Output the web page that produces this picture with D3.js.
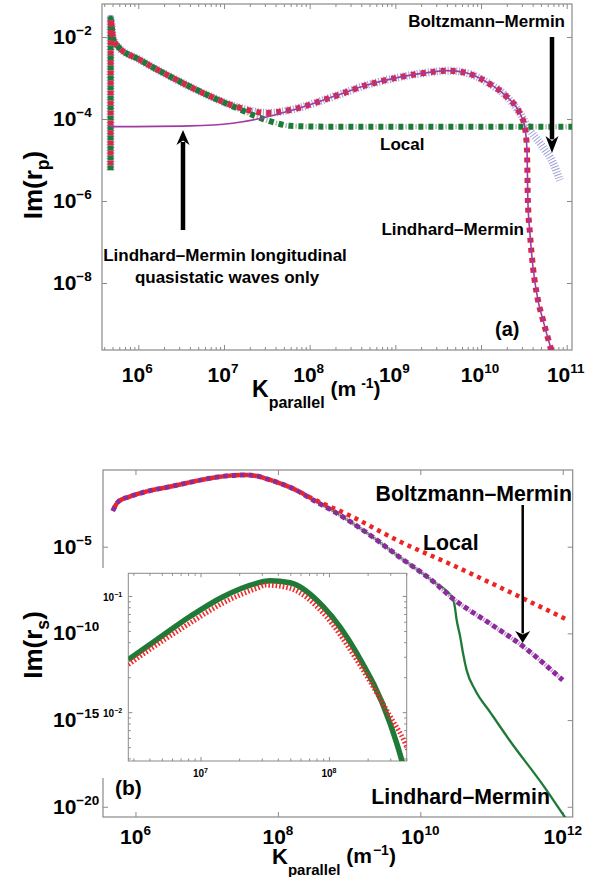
<!DOCTYPE html>
<html>
<head>
<meta charset="utf-8">
<script src="https://cdn.jsdelivr.net/npm/d3@7"></script>
<style>
  body { margin: 0; background: #fff; }
  svg { display: block; }
  text { font-family: "Liberation Sans", Arial, Helvetica, sans-serif; font-weight: bold; fill: #000; }
</style>
</head>
<body>
<svg id="fig" width="599" height="877"></svg>
<script>
// ---------------- Panel (a): Im(r_p) vs K_parallel ----------------
// decaying branch near the light line, shared by Local, Lindhard–Mermin and Boltzmann–Mermin
const kDecayA  = [4.74e5, 4.75e5, 4.76e5, 4.9e5, 5.07e5, 5.62e5, 1.05e6, 2.54e6, 6.31e6, 1.55e7];
const imDecayA = [5.6e-6, 3.2e-4, 2.8e-2, 1.78e-2, 9.5e-3, 6.3e-3, 2.75e-3, 1.0e-3, 3.9e-4, 1.86e-4];
// broad hump of the non-local models
const kHumpA  = [3.16e7, 5.9e7, 1.86e8, 4.68e8, 1.12e9, 2.75e9, 3.98e9, 6.84e9, 1.17e10, 2.0e10, 2.82e10];
const imHumpA = [1.41e-4, 1.66e-4, 3.47e-4, 6.76e-4, 1.05e-3, 1.41e-3, 1.51e-3, 1.32e-3, 7.9e-4, 3.47e-4, 1.41e-4];
// Lindhard–Mermin cut-off
const kLmTailA  = [3.24e10, 3.44e10, 3.52e10, 3.72e10, 4.04e10, 4.61e10, 5.28e10, 6.61e10, 7.48e10];
const imLmTailA = [6.4e-5, 1.75e-5, 1.06e-6, 1.66e-7, 2.45e-8, 3.89e-9, 1.26e-9, 2.34e-10, 1.0e-10];
// Boltzmann–Mermin tail
const kBmTailA  = [3.16e10, 3.72e10, 5.25e10, 6.92e10, 8.32e10];
const imBmTailA = [9.5e-5, 5.4e-5, 2.1e-5, 8.5e-6, 3.2e-6];
// Local model plateau
const kLocalA  = [1.55e7, 2.4e7, 4.12e7, 5.9e7, 1.58e8, 1.17e11];
const imLocalA = [1.7e-4, 1.15e-4, 7.9e-5, 6.8e-5, 6.5e-5, 6.5e-5];
// Lindhard–Mermin, longitudinal quasistatic waves only (low-K part)
const kQuasiA  = [4.7e5, 3.98e6, 1.26e7, 3.16e7, 5.9e7];
const imQuasiA = [6.5e-5, 6.8e-5, 7.9e-5, 1.12e-4, 1.58e-4];
const xTicksA = [1e6, 1e7, 1e8, 1e9, 1e10, 1e11];
const yTicksA = [1e-2, 1e-4, 1e-6, 1e-8];

// ---------------- Panel (b): Im(r_s) vs K_parallel ----------------
const kMainB  = [4.79e5, 5.75e5, 8.32e5, 1.58e6, 3.02e6, 5.89e6, 1.12e7, 2.14e7, 3.24e7, 5.01e7, 7.76e7, 1.2e8, 1.78e8];
const imMainB = [1.15e-3, 3.98e-3, 7.76e-3, 1.7e-2, 2.88e-2, 5.25e-2, 8.9e-2, 0.126, 0.138, 0.12, 7.1e-2, 3.8e-2, 1.9e-2];
// shared by Boltzmann–Mermin and Lindhard–Mermin
const kNonlocB  = [3.16e8, 6.03e8, 1.78e9, 5.13e9, 1.51e10, 2.88e10];
const imNonlocB = [4.8e-3, 1.12e-3, 6.3e-5, 2.5e-6, 1.0e-7, 1.0e-8];
const kBmTailB  = [8.51e10, 3.09e11, 6.03e11, 1.0e12];
const imBmTailB = [5.0e-10, 1.26e-11, 1.26e-12, 2.0e-13];
const kLmTailB  = [3.05e10, 3.24e10, 3.63e10, 3.98e10, 4.47e10, 5.89e10, 9.55e10, 1.78e11, 5.5e11, 1.07e12, 1.26e12];
const imLmTailB = [3.47e-9, 5.9e-10, 6.5e-11, 7.1e-12, 7.6e-13, 5.4e-14, 2.9e-15, 7.1e-17, 1.41e-19, 2.6e-21, 1.0e-21];
const kLocalB  = [3.16e8, 1.02e9, 5.13e9, 2.63e10, 1.32e11, 1.2e12];
const imLocalB = [5.6e-3, 6.3e-4, 2.0e-5, 1.0e-6, 4.5e-8, 5.6e-10];
const xTicksB = [1e6, 1e8, 1e10, 1e12];
const yTicksB = [1e-5, 1e-10, 1e-15, 1e-20];

// inset: zoom on the maximum
const kInsetLm   = [2.74e6, 4.56e6, 8.28e6, 1.5e7, 2.74e7, 3.47e7, 4.97e7, 9.02e7, 1.64e8, 2.98e8, 3.67e8, 3.98e8];
const imInsetLm  = [2.83e-2, 4.2e-2, 6.65e-2, 9.86e-2, 0.1285, 0.135, 0.13, 8.1e-2, 3.24e-2, 8.1e-3, 3.94e-3, 2.8e-3];
const kInsetLoc  = [2.74e6, 4.56e6, 8.28e6, 1.5e7, 2.74e7, 3.24e7, 4.97e7, 9.02e7, 1.64e8, 2.98e8, 3.89e8, 4.1e8];
const imInsetLoc = [2.57e-2, 3.8e-2, 5.83e-2, 8.7e-2, 0.1164, 0.124, 0.1164, 7.1e-2, 2.83e-2, 9.3e-3, 5.5e-3, 4.8e-3];
const xTicksIn = [1e7, 1e8];
const yTicksIn = [1e-1, 1e-2];

// ---------------- helpers ----------------
const svg = d3.select("#fig");
const AXIS = "#8a8a8a";
const zip = (k, v) => k.map((d, i) => [d, v[i]]);
const supExp = v => { const e = Math.round(Math.log10(v)); return (e < 0 ? "\u2212" : "") + Math.abs(e); };
function minorsBetween(lo, hi) {
  const out = [];
  for (let e = Math.floor(Math.log10(lo)); e <= Math.ceil(Math.log10(hi)); e++)
    for (let m = 2; m <= 9; m++) { const v = m * Math.pow(10, e); if (v > lo && v < hi) out.push(v); }
  return out;
}
function tickRow(g, axisFn, scale, values, size, transform) {
  const a = axisFn(scale).tickValues(values).tickSizeInner(-size).tickSizeOuter(0).tickFormat("");
  const t = g.append("g").attr("transform", transform).call(a);
  t.select(".domain").remove();
  t.selectAll("line").attr("stroke", AXIS).attr("stroke-width", 1);
}
function powLabel(g, x, y, v, fs, sfs, rise, anchor) {
  const t = g.append("text").attr("x", x).attr("y", y).attr("font-size", fs).attr("text-anchor", anchor || "start");
  t.append("tspan").text("10");
  t.append("tspan").attr("font-size", sfs).attr("dy", -rise).text(supExp(v));
  return t;
}
function arrow(g, x, y0, y1, w, hw, hl) {
  const dir = Math.sign(y1 - y0);
  g.append("line").attr("x1", x).attr("x2", x).attr("y1", y0).attr("y2", y1 - dir * hl * 0.8)
    .attr("stroke", "#000").attr("stroke-width", w);
  g.append("path").attr("d", `M${x - hw / 2},${y1 - dir * hl} L${x},${y1} L${x + hw / 2},${y1 - dir * hl} L${x},${y1 - dir * hl * 0.7} Z`)
    .attr("fill", "#000");
}
function kLabel(g, x, y, fsK, fsSub, fsUnit, fsSup, spaced) {
  const t = g.append("text").attr("x", x).attr("y", y);
  t.append("tspan").attr("font-size", fsK).text("K");
  t.append("tspan").attr("font-size", fsSub).attr("dy", fsSub * 0.7).text("parallel");
  t.append("tspan").attr("font-size", fsUnit).attr("dy", -fsSub * 0.7 - 1).text(" (m");
  t.append("tspan").attr("font-size", fsSup).attr("dy", -fsUnit * 0.4).attr("dx", spaced ? 5 : 1).text(spaced ? "-1" : "\u22121");
  t.append("tspan").attr("font-size", fsUnit).attr("dy", fsUnit * 0.4).text(")");
}
function imLabel(g, x, y, sub, fs) {
  const t = g.append("text").attr("transform", `translate(${x},${y}) rotate(-90)`)
    .attr("text-anchor", "middle").attr("font-size", fs);
  t.append("tspan").text("Im(r");
  t.append("tspan").attr("font-size", fs * 0.68).attr("dy", fs * 0.28).text(sub);
  t.append("tspan").attr("dy", -fs * 0.28).text(")");
}

// ================= Panel (a) =================
const A = { l: 102, t: 4, r: 572, b: 350 };
const xA = d3.scaleLog().domain([3.77e5, 1.153e11]).range([A.l, A.r]);
const yA = d3.scaleLog().domain([2.32e-10, 6.38e-2]).range([A.b, A.t]);
const gA = svg.append("g");
svg.append("defs").append("clipPath").attr("id", "clipA")
  .append("rect").attr("x", A.l).attr("y", A.t).attr("width", A.r - A.l).attr("height", A.b - A.t);

tickRow(gA, d3.axisBottom, xA, xTicksA, 5, `translate(0,${A.b})`);
tickRow(gA, d3.axisTop, xA, xTicksA, 5, `translate(0,${A.t})`);
tickRow(gA, d3.axisBottom, xA, minorsBetween(xA.domain()[0], xA.domain()[1]), 3, `translate(0,${A.b})`);
tickRow(gA, d3.axisTop, xA, minorsBetween(xA.domain()[0], xA.domain()[1]), 3, `translate(0,${A.t})`);
tickRow(gA, d3.axisLeft, yA, yTicksA, 5, `translate(${A.l},0)`);
tickRow(gA, d3.axisRight, yA, yTicksA, 5, `translate(${A.r},0)`);
gA.append("rect").attr("x", A.l).attr("y", A.t).attr("width", A.r - A.l).attr("height", A.b - A.t)
  .attr("fill", "none").attr("stroke", AXIS).attr("stroke-width", 1.2);

const lineA = d3.line().x(d => xA(d[0])).y(d => yA(d[1])).curve(d3.curveMonotoneX);
const decayA = zip(kDecayA, imDecayA), humpA = zip(kHumpA, imHumpA);
const lmA = decayA.concat(humpA, zip(kLmTailA, imLmTailA));
const bmA = decayA.concat(humpA, zip(kBmTailA, imBmTailA));
const localA = decayA.slice(0, 9).concat(zip(kLocalA, imLocalA));
const quasiA = zip(kQuasiA, imQuasiA).concat(humpA.slice(2), zip(kLmTailA, imLmTailA));
const cA = gA.append("g").attr("clip-path", "url(#clipA)");
// Boltzmann–Mermin: lavender hatching
cA.append("path").attr("d", lineA(bmA)).attr("fill", "none")
  .attr("stroke", "#8f8fd2").attr("stroke-width", 8).attr("stroke-dasharray", "1 1.8").attr("opacity", 0.85);
// Local: green dash-dot
cA.append("path").attr("d", lineA(localA)).attr("fill", "none")
  .attr("stroke", "#a9bfae").attr("stroke-width", 5).attr("stroke-dasharray", "1.5 8.5").attr("stroke-dashoffset", -7);
cA.append("path").attr("d", lineA(localA)).attr("fill", "none")
  .attr("stroke", "#1d7b38").attr("stroke-width", 6).attr("stroke-dasharray", "5 5");
// Lindhard–Mermin: crimson squares
cA.append("path").attr("d", lineA(lmA)).attr("fill", "none")
  .attr("stroke", "#d5294a").attr("stroke-width", 6).attr("stroke-dasharray", "5 5").attr("stroke-dashoffset", 5);
// longitudinal quasistatic waves only: thin purple
cA.append("path").attr("d", lineA(quasiA)).attr("fill", "none")
  .attr("stroke", "#a13aa3").attr("stroke-width", 1.6);

yTicksA.forEach(v => powLabel(gA, 53, yA(v) + 7, v, 21, 13.5, 9));
xTicksA.forEach(v => powLabel(gA, xA(v) - 1, 382, v, 21, 13.5, 9, "middle"));
kLabel(gA, 252, 397, 23, 16, 21, 14, true);
imLabel(gA, 42, 185, "p", 26);

gA.append("text").attr("x", 565).attr("y", 27).attr("font-size", 17).attr("text-anchor", "end").text("Boltzmann\u2013Mermin");
gA.append("text").attr("x", 380).attr("y", 150).attr("font-size", 17).text("Local");
gA.append("text").attr("x", 524).attr("y", 235).attr("font-size", 17).attr("text-anchor", "end").text("Lindhard\u2013Mermin");
gA.append("text").attr("x", 225).attr("y", 261).attr("font-size", 17).attr("text-anchor", "middle").text("Lindhard\u2013Mermin longitudinal");
gA.append("text").attr("x", 227).attr("y", 283).attr("font-size", 17).attr("text-anchor", "middle").text("quasistatic waves only");
gA.append("text").attr("x", 495).attr("y", 336).attr("font-size", 20).text("(a)");
arrow(gA, 552, 37, 153, 4.5, 13, 17);
arrow(gA, 183, 230, 130, 4.5, 13, 15);

// ================= Panel (b) =================
const B = { l: 103, t: 470, r: 572.7, b: 817 };
const xB = d3.scaleLog().domain([3.5e5, 1.38e12]).range([B.l, B.r]);
const yB = d3.scaleLog().domain([2.57e-21, 0.266]).range([B.b, B.t]);
const gB = svg.append("g");
svg.select("defs").append("clipPath").attr("id", "clipB")
  .append("rect").attr("x", B.l).attr("y", B.t).attr("width", B.r - B.l).attr("height", B.b - B.t);

tickRow(gB, d3.axisBottom, xB, xTicksB, 5, `translate(0,${B.b})`);
tickRow(gB, d3.axisTop, xB, xTicksB, 5, `translate(0,${B.t})`);
tickRow(gB, d3.axisLeft, yB, yTicksB, 5, `translate(${B.l},0)`);
tickRow(gB, d3.axisRight, yB, yTicksB, 5, `translate(${B.r},0)`);
gB.append("rect").attr("x", B.l).attr("y", B.t).attr("width", B.r - B.l).attr("height", B.b - B.t)
  .attr("fill", "none").attr("stroke", AXIS).attr("stroke-width", 1.2);

const lineB = d3.line().x(d => xB(d[0])).y(d => yB(d[1])).curve(d3.curveMonotoneX);
const mainB = zip(kMainB, imMainB), nonlocB = zip(kNonlocB, imNonlocB);
const lmB = mainB.concat(nonlocB, zip(kLmTailB, imLmTailB));
const bmB = mainB.concat(nonlocB, zip(kBmTailB, imBmTailB));
const localB = mainB.concat(zip(kLocalB, imLocalB));
const cB = gB.append("g").attr("clip-path", "url(#clipB)");
cB.append("path").attr("d", lineB(lmB)).attr("fill", "none").attr("stroke", "#1f7a37").attr("stroke-width", 2.3);
cB.append("path").attr("d", lineB(bmB)).attr("fill", "none")
  .attr("stroke", "#c79ad0").attr("stroke-width", 4).attr("stroke-dasharray", "1.5 7").attr("stroke-dashoffset", -6);
cB.append("path").attr("d", lineB(bmB)).attr("fill", "none")
  .attr("stroke", "#8c2c9c").attr("stroke-width", 5).attr("stroke-dasharray", "5 3.5");
cB.append("path").attr("d", lineB(localB)).attr("fill", "none")
  .attr("stroke", "#ee2424").attr("stroke-width", 4.5).attr("stroke-dasharray", "4 4.5").attr("stroke-dashoffset", 4);

yTicksB.forEach(v => powLabel(gB, 53, yB(v) + 7, v, 21, 13.5, 9));
xTicksB.forEach(v => powLabel(gB, xB(v), 844, v, 21, 13.5, 9, "middle"));
kLabel(gB, 272, 864, 22, 15, 21, 14, false);
imLabel(gB, 42, 645, "s", 26);

gB.append("text").attr("x", 572).attr("y", 501).attr("font-size", 21.3).attr("text-anchor", "end").text("Boltzmann\u2013Mermin");
gB.append("text").attr("x", 423).attr("y", 550).attr("font-size", 21.3).text("Local");
gB.append("text").attr("x", 550).attr("y", 804).attr("font-size", 21.3).attr("text-anchor", "end").text("Lindhard\u2013Mermin");
gB.append("text").attr("x", 115).attr("y", 795).attr("font-size", 21).text("(b)");
arrow(gB, 522.7, 505, 643, 2.5, 15, 12);

// ---------------- inset ----------------
const I = { l: 128.3, t: 573.3, r: 406.7, b: 761 };
const xI = d3.scaleLog().domain([2.74e6, 4.03e8]).range([I.l, I.r]);
const yI = d3.scaleLog().domain([3.8e-3, 0.1567]).range([I.b, I.t]);
const gI = svg.append("g");
gI.append("rect").attr("x", 99).attr("y", 568).attr("width", 312).attr("height", 210).attr("fill", "#fff");
svg.select("defs").append("clipPath").attr("id", "clipI")
  .append("rect").attr("x", I.l).attr("y", I.t).attr("width", I.r - I.l).attr("height", I.b - I.t);
const minX = minorsBetween(xI.domain()[0], xI.domain()[1]);
const minY = minorsBetween(yI.domain()[0], yI.domain()[1]);
tickRow(gI, d3.axisBottom, xI, xTicksIn, 4, `translate(0,${I.b})`);
tickRow(gI, d3.axisTop, xI, xTicksIn, 4, `translate(0,${I.t})`);
tickRow(gI, d3.axisBottom, xI, minX, 2.5, `translate(0,${I.b})`);
tickRow(gI, d3.axisTop, xI, minX, 2.5, `translate(0,${I.t})`);
tickRow(gI, d3.axisLeft, yI, yTicksIn, 4, `translate(${I.l},0)`);
tickRow(gI, d3.axisRight, yI, yTicksIn, 4, `translate(${I.r},0)`);
tickRow(gI, d3.axisLeft, yI, minY, 2.5, `translate(${I.l},0)`);
tickRow(gI, d3.axisRight, yI, minY, 2.5, `translate(${I.r},0)`);
gI.append("rect").attr("x", I.l).attr("y", I.t).attr("width", I.r - I.l).attr("height", I.b - I.t)
  .attr("fill", "none").attr("stroke", AXIS).attr("stroke-width", 1);

const lineI = d3.line().x(d => xI(d[0])).y(d => yI(d[1])).curve(d3.curveMonotoneX);
const cI = gI.append("g").attr("clip-path", "url(#clipI)");
cI.append("path").attr("d", lineI(zip(kInsetLm, imInsetLm))).attr("fill", "none")
  .attr("stroke", "#1e7a36").attr("stroke-width", 5.5);
cI.append("path").attr("d", lineI(zip(kInsetLoc, imInsetLoc))).attr("fill", "none")
  .attr("stroke", "#f02a2a").attr("stroke-width", 5).attr("stroke-dasharray", "1.6 2");

yTicksIn.forEach(v => powLabel(gI, 103, yI(v) + 5, v, 10, 7, 4));
xTicksIn.forEach(v => powLabel(gI, xI(v), 777, v, 10, 7, 4, "middle"));
</script>
</body>
</html>
